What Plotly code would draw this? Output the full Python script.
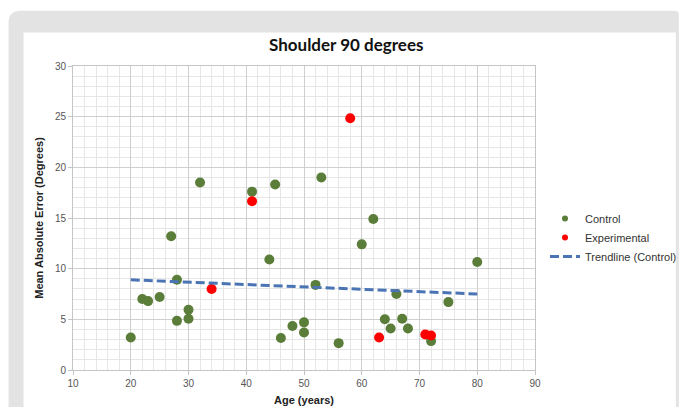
import plotly.graph_objects as go

# ---------------- data ----------------
control_age = [20, 22, 23, 25, 27, 28, 28, 30, 30, 32, 41, 44, 45, 46, 48, 50, 50,
               52, 53, 56, 60, 62, 64, 65, 66, 67, 68, 72, 75, 80]
control_err = [3.2, 7.0, 6.8, 7.2, 13.2, 8.9, 4.85, 5.95, 5.05, 18.5, 17.6, 10.9, 18.3, 3.15,
               4.35, 4.7, 3.7, 8.4, 19.0, 2.65, 12.4, 14.9, 5.0, 4.1, 7.5, 5.05, 4.1, 2.85,
               6.7, 10.65]
exp_age = [34, 41, 58, 63, 71, 72]
exp_err = [8.0, 16.65, 24.85, 3.2, 3.5, 3.4]
trend_age = [20, 80]
trend_err = [8.9, 7.5]

title_text = "Shoulder 90 degrees"
x_title = "Age (years)"
y_title = "Mean Absolute Error (Degrees)"

# ---------------- layout helpers ----------------
W, H = 680, 407
L, R, T, B = 72.5, 535.0, 65.5, 370.5


def px(x):
    return (x - L) / (R - L)


def py(y):
    return (B - y) / (B - T)


green = "#5b7d3a"
red = "#ff0000"
blue = "#4a74b4"

fig = go.Figure()
fig.add_trace(go.Scatter(x=control_age, y=control_err, mode="markers", showlegend=False,
                         marker=dict(color=green, size=10, line=dict(width=0))))
fig.add_trace(go.Scatter(x=exp_age, y=exp_err, mode="markers", showlegend=False,
                         marker=dict(color=red, size=10, line=dict(width=0))))
fig.add_trace(go.Scatter(x=trend_age, y=trend_err, mode="lines", showlegend=False,
                         line=dict(color=blue, width=3, dash="9px,4px")))
# legend entries
fig.add_trace(go.Scatter(x=[None], y=[None], mode="markers", name="Control",
                         marker=dict(color=green, size=6)))
fig.add_trace(go.Scatter(x=[None], y=[None], mode="markers", name="Experimental",
                         marker=dict(color=red, size=6)))
fig.add_trace(go.Scatter(x=[None], y=[None], mode="lines", name="Trendline (Control)",
                         line=dict(color=blue, width=3, dash="9px,4px")))

# background card shapes
gx0, gx1, gy0, gy1, r = 8, 679, 10, 430, 12
gray_path = (f"M {px(gx0)},{py(gy1)} L {px(gx0)},{py(gy0 + r)} "
             f"Q {px(gx0)},{py(gy0)} {px(gx0 + r)},{py(gy0)} "
             f"L {px(gx1 - 4)},{py(gy0)} Q {px(gx1)},{py(gy0)} {px(gx1)},{py(gy0 + 4)} "
             f"L {px(gx1)},{py(gy1)} Z")
shapes = [
    dict(type="path", xref="paper", yref="paper", path=gray_path, fillcolor="#e3e3e3",
         line=dict(width=0), layer="below"),
    dict(type="rect", xref="paper", yref="paper", x0=px(23), x1=px(676), y0=py(430), y1=py(32),
         fillcolor="white", line=dict(width=0), layer="below"),
]

tickfont = dict(family="Liberation Sans, Arial", size=10, color="#555555")
axis_common = dict(showline=True, linecolor="#c4c4c4", linewidth=1, mirror=True,
                   ticks="outside", ticklen=4, tickcolor="#c4c4c4", tickfont=tickfont,
                   showgrid=True, gridcolor="#cfcfcf", gridwidth=1, zeroline=False,
                   automargin=False)

fig.update_layout(
    width=W, height=H,
    margin=dict(l=L, r=W - R, t=T, b=H - B, pad=0, autoexpand=False),
    paper_bgcolor="white", plot_bgcolor="rgba(0,0,0,0)",
    shapes=shapes,
    xaxis=dict(range=[10, 90], dtick=10, tick0=10,
               minor=dict(dtick=2, showgrid=True, gridcolor="#e6e6e6", gridwidth=1),
               title=dict(text=f"<b>{x_title}</b>", standoff=8,
                          font=dict(family="Liberation Sans, Arial", size=11, color="#222222")),
               **axis_common),
    yaxis=dict(range=[0, 30], dtick=5,
               minor=dict(dtick=1, showgrid=True, gridcolor="#e6e6e6", gridwidth=1),
               title=dict(text=f"<b>{y_title}</b>", standoff=9,
                          font=dict(family="Liberation Sans, Arial", size=11, color="#222222")),
               **axis_common),
    legend=dict(x=px(545), y=py(204), xanchor="left", yanchor="top",
                bgcolor="rgba(0,0,0,0)",
                font=dict(family="Liberation Sans, Arial", size=11, color="#333333"),
                tracegroupgap=0, itemwidth=30),
    annotations=[dict(text=f"<b>{title_text}</b>", x=px(346), y=py(44), xref="paper", yref="paper",
                      showarrow=False, xanchor="center", yanchor="middle",
                      font=dict(family="Lato, Open Sans", size=17, color="#111111"))],
)

fig.write_html("out.html")
